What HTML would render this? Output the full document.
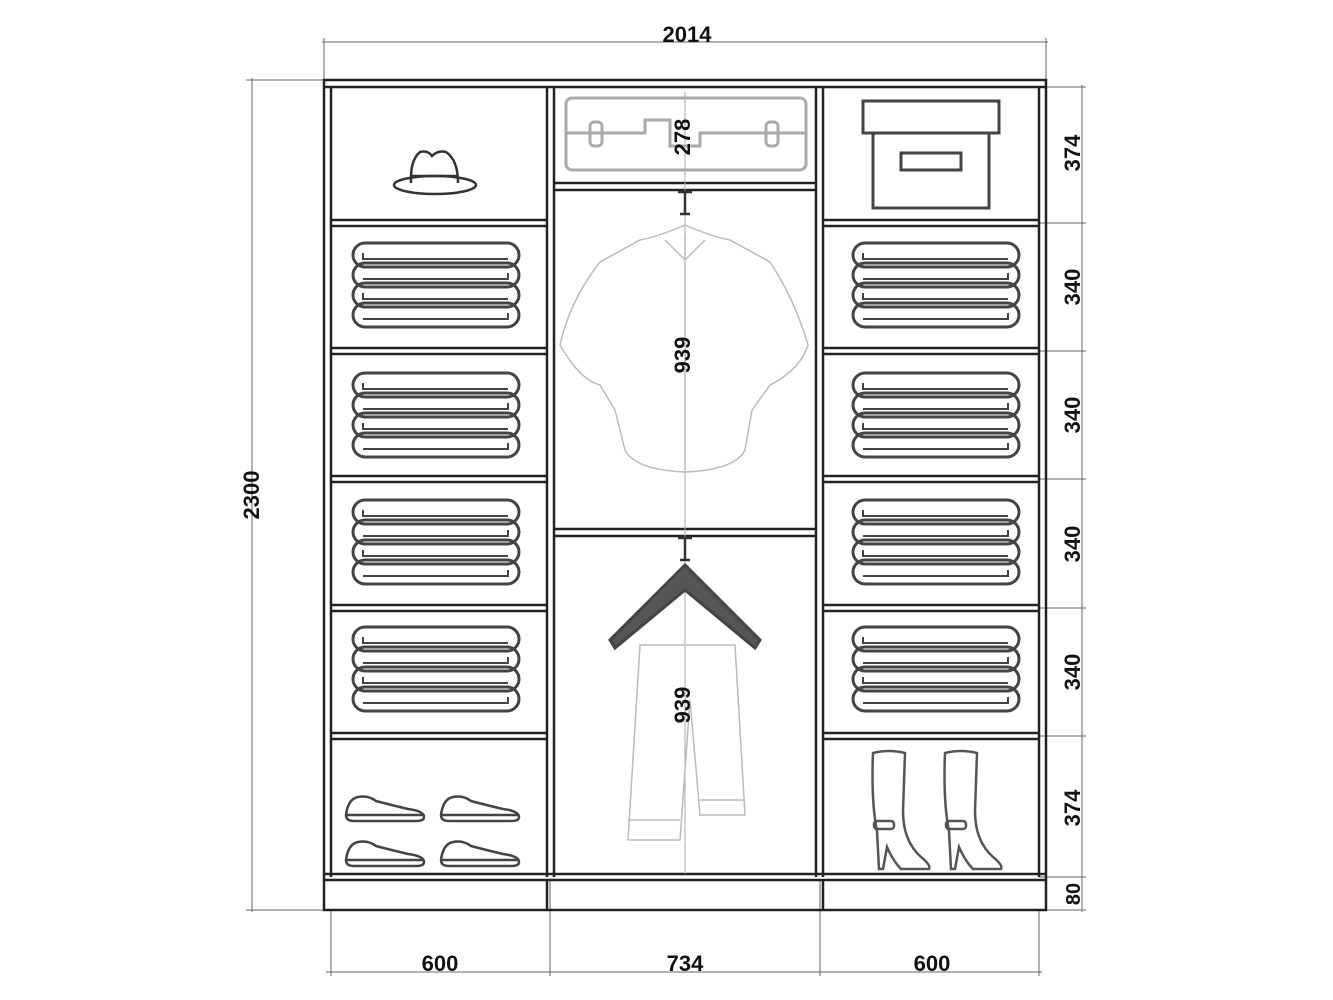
<!DOCTYPE html>
<html><head><meta charset="utf-8"><style>
body{margin:0;background:#fff}
svg{display:block}
text{font-family:"Liberation Sans",sans-serif;font-weight:bold;fill:#111}
</style></head><body>
<svg width="1333" height="1000" viewBox="0 0 1333 1000">
<defs>
<g id="fold" fill="none" stroke="#444" stroke-width="3">
 <rect x="0" y="0" width="166" height="24" rx="12"/>
 <rect x="0" y="20" width="166" height="24" rx="12"/>
 <rect x="0" y="40" width="166" height="24" rx="12"/>
 <rect x="0" y="60" width="166" height="24" rx="12"/>
 <path d="M10 10 v6 h145 M155 30 v6 h-145 M10 50 v6 h145 M155 70 v6 h-145" stroke-width="2"/>
</g>
<g id="shoe" fill="none" stroke="#444" stroke-width="2.5">
 <path d="M0 22 Q2 6 12 4 Q22 2 30 8 Q45 12 62 16 Q78 18 78 24 Q78 28 70 28 L8 28 Q0 28 0 22Z"/>
 <path d="M0 22 H78"/>
</g>
<g id="boot" fill="none" stroke="#555" stroke-width="2.5">
 <path d="M2 2 Q18 -2 34 2 L32 60 Q32 90 50 106 Q60 114 58 118 L30 118 Q22 110 16 96 L12 118 L8 118 L6 80 Q0 50 2 2Z"/>
 <rect x="3" y="70" width="20" height="8" rx="3"/>
</g>
</defs>
<g stroke="#222" fill="none">
 <g stroke-width="1" stroke="#666">
  <line x1="322" y1="42" x2="1048" y2="42"/><line x1="324" y1="38" x2="324" y2="80"/><line x1="1046" y1="38" x2="1046" y2="80"/>
  <line x1="246" y1="80" x2="324" y2="80"/><line x1="252" y1="78" x2="252" y2="912"/><line x1="246" y1="910" x2="324" y2="910"/>
  <line x1="1082" y1="85" x2="1082" y2="912"/>
  <line x1="1039" y1="87" x2="1086" y2="87"/><line x1="1039" y1="223" x2="1086" y2="223"/><line x1="1039" y1="351" x2="1086" y2="351"/>
  <line x1="1039" y1="479" x2="1086" y2="479"/><line x1="1039" y1="608" x2="1086" y2="608"/><line x1="1039" y1="736" x2="1086" y2="736"/>
  <line x1="1039" y1="877" x2="1086" y2="877"/><line x1="1046" y1="910" x2="1086" y2="910"/>
  <line x1="326" y1="972" x2="1042" y2="972"/>
  <line x1="331" y1="910" x2="331" y2="976"/><line x1="550" y1="880" x2="550" y2="976"/><line x1="820" y1="880" x2="820" y2="976"/><line x1="1039" y1="910" x2="1039" y2="976"/>
 </g>
 <g stroke-width="2.5">
  <rect x="324" y="80" width="722" height="830"/>
  <line x1="324" y1="87" x2="1046" y2="87"/>
  <line x1="331" y1="87" x2="331" y2="877"/><line x1="1039" y1="87" x2="1039" y2="877"/>
  <line x1="547" y1="87" x2="547" y2="877"/><line x1="554" y1="87" x2="554" y2="877"/>
  <line x1="816" y1="87" x2="816" y2="877"/><line x1="823" y1="87" x2="823" y2="877"/>
  <line x1="324" y1="874" x2="1046" y2="874"/><line x1="324" y1="880" x2="1046" y2="880"/>
  <line x1="547" y1="880" x2="547" y2="910"/><line x1="823" y1="880" x2="823" y2="910"/>
  <path d="M331 220H547M331 226H547M331 348H547M331 354H547M331 476H547M331 482H547M331 605H547M331 611H547M331 733H547M331 739H547"/>
  <path d="M823 220H1039M823 226H1039M823 348H1039M823 354H1039M823 476H1039M823 482H1039M823 605H1039M823 611H1039M823 733H1039M823 739H1039"/>
  <path d="M554 183H816M554 190H816M554 529H816M554 536H816"/>
 </g>
 <line x1="685" y1="92" x2="685" y2="874" stroke="#aaa" stroke-width="1"/>
 <g stroke="#aaa" stroke-width="3">
  <rect x="566" y="98" width="240" height="72" rx="6"/>
  <path d="M566 133H645V120H670V146H700V133H806"/>
  <rect x="590" y="122" width="12" height="24" rx="4"/><rect x="766" y="122" width="12" height="24" rx="4"/>
 </g>
 <g stroke="#444" stroke-width="3">
  <rect x="863" y="101" width="136" height="32"/>
  <rect x="873" y="133" width="116" height="75"/>
  <rect x="901" y="153" width="60" height="17"/>
 </g>
 <g stroke="#333" stroke-width="2.5">
  <ellipse cx="435" cy="185" rx="41" ry="9"/>
  <path d="M411 183 Q410 160 420 152 Q428 150 432 156 Q438 150 446 152 Q458 160 458 183"/>
  <path d="M411 176 H458"/>
 </g>
 <g stroke="#333" stroke-width="2.5">
  <path d="M678 192H692M685 192V214M680 214H690"/>
  <path d="M678 538H692M685 538V560M680 560H690"/>
 </g>
 <g stroke="#bbb" stroke-width="1.5">
  <path d="M685 225 Q660 236 640 240 L600 262 Q570 300 560 345 Q580 380 600 385 L615 410 L625 450 Q635 470 685 472 Q735 470 745 450 L752 410 L770 385 Q800 370 808 345 Q795 300 770 262 L730 240 Q710 236 685 225Z"/>
  <path d="M685 235V470M665 240L685 260L705 240"/>
 </g>
 <g stroke="#444" stroke-width="3">
  <path d="M685 565 L610 640 L615 648 L685 590 L755 648 L760 640 Z" fill="#555"/>
 </g>
 <g stroke="#bbb" stroke-width="1.5">
  <path d="M640 645H735L745 815H700L690 700L680 840H628Z"/>
  <path d="M628 820H680M700 800H745"/>
 </g>
 <use href="#fold" x="353" y="243"/><use href="#fold" x="353" y="373"/><use href="#fold" x="353" y="500"/><use href="#fold" x="353" y="627"/>
 <use href="#fold" x="853" y="243"/><use href="#fold" x="853" y="373"/><use href="#fold" x="853" y="500"/><use href="#fold" x="853" y="627"/>
 <use href="#shoe" x="346" y="793"/><use href="#shoe" x="441" y="793"/>
 <use href="#shoe" x="346" y="838"/><use href="#shoe" x="441" y="838"/>
 <use href="#boot" x="871" y="751"/><use href="#boot" x="943" y="751"/>
</g>
<g font-size="22">
 <text x="687" y="42" text-anchor="middle">2014</text>
 <text x="440" y="971" text-anchor="middle">600</text>
 <text x="685" y="971" text-anchor="middle">734</text>
 <text x="932" y="971" text-anchor="middle">600</text>
 <text transform="translate(259,495) rotate(-90)" text-anchor="middle">2300</text>
 <text transform="translate(1080,153) rotate(-90)" text-anchor="middle">374</text>
 <text transform="translate(1080,287) rotate(-90)" text-anchor="middle">340</text>
 <text transform="translate(1080,415) rotate(-90)" text-anchor="middle">340</text>
 <text transform="translate(1080,544) rotate(-90)" text-anchor="middle">340</text>
 <text transform="translate(1080,672) rotate(-90)" text-anchor="middle">340</text>
 <text transform="translate(1080,808) rotate(-90)" text-anchor="middle">374</text>
 <text transform="translate(1080,894) rotate(-90)" text-anchor="middle" font-size="20">80</text>
 <text transform="translate(690,137) rotate(-90)" text-anchor="middle">278</text>
 <text transform="translate(690,355) rotate(-90)" text-anchor="middle">939</text>
 <text transform="translate(690,705) rotate(-90)" text-anchor="middle">939</text>
</g>
</svg>
</body></html>
